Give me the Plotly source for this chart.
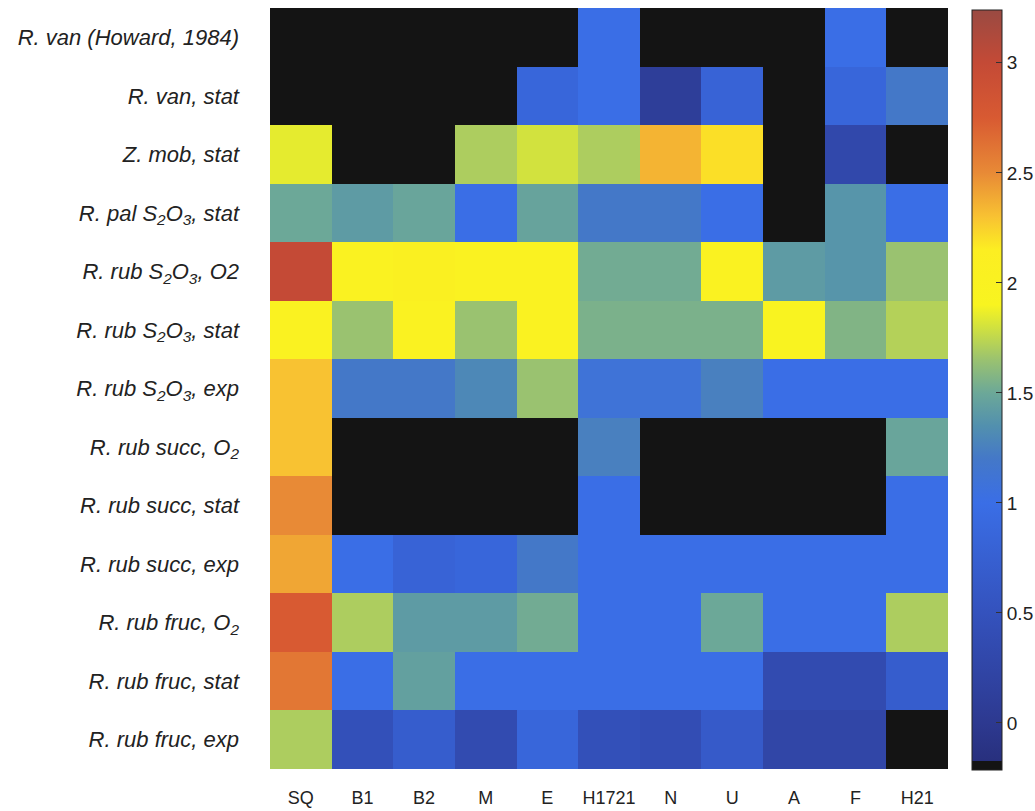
import plotly.graph_objects as go

# ---------------- data ----------------
columns = ["SQ", "B1", "B2", "M", "E", "H1721", "N", "U", "A", "F", "H21"]

row_labels = [
    "R. van (Howard, 1984)",
    "R. van, stat",
    "Z. mob, stat",
    "R. pal S<sub>2</sub>O<sub>3</sub>, stat",
    "R. rub S<sub>2</sub>O<sub>3</sub>, O2",
    "R. rub S<sub>2</sub>O<sub>3</sub>, stat",
    "R. rub S<sub>2</sub>O<sub>3</sub>, exp",
    "R. rub succ, O<sub>2</sub>",
    "R. rub succ, stat",
    "R. rub succ, exp",
    "R. rub fruc, O<sub>2</sub>",
    "R. rub fruc, stat",
    "R. rub fruc, exp",
]

# None = no data (drawn black, bottom of the colour scale)
r_van_howard   = [None, None, None, None, None, 1.00, None, None, None, 1.00, None]
r_van_stat     = [None, None, None, None, 0.85, 1.00, 0.10, 0.80, None, 0.85, 1.20]
z_mob_stat     = [1.85, None, None, 1.70, 1.80, 1.70, 2.35, 2.20, None, 0.30, None]
r_pal_s2o3     = [1.50, 1.42, 1.48, 1.00, 1.47, 1.20, 1.20, 1.00, None, 1.38, 1.00]
r_rub_s2o3_o2  = [3.00, 2.00, 2.05, 2.00, 2.00, 1.52, 1.52, 2.00, 1.42, 1.38, 1.65]
r_rub_s2o3_st  = [2.00, 1.65, 2.00, 1.65, 2.00, 1.55, 1.55, 1.55, 1.95, 1.57, 1.72]
r_rub_s2o3_exp = [2.30, 1.20, 1.20, 1.30, 1.65, 1.10, 1.10, 1.25, 1.00, 1.00, 1.00]
r_rub_succ_o2  = [2.30, None, None, None, None, 1.25, None, None, None, None, 1.48]
r_rub_succ_st  = [2.50, None, None, None, None, 1.00, None, None, None, None, 1.00]
r_rub_succ_exp = [2.40, 1.00, 0.80, 0.85, 1.20, 1.00, 1.00, 1.00, 1.00, 1.00, 1.00]
r_rub_fruc_o2  = [2.75, 1.70, 1.42, 1.42, 1.52, 1.00, 1.00, 1.50, 1.00, 1.00, 1.70]
r_rub_fruc_st  = [2.60, 1.00, 1.45, 1.00, 1.00, 1.00, 1.00, 1.00, 0.35, 0.35, 0.70]
r_rub_fruc_exp = [1.70, 0.45, 0.70, 0.35, 0.85, 0.45, 0.40, 0.65, 0.25, 0.25, None]

cbar_ticks = [0, 0.5, 1, 1.5, 2, 2.5, 3]
NO_DATA_CODE = -0.2
ZMIN, ZMAX = -0.214, 3.24

rows = [r_van_howard, r_van_stat, z_mob_stat, r_pal_s2o3, r_rub_s2o3_o2,
        r_rub_s2o3_st, r_rub_s2o3_exp, r_rub_succ_o2, r_rub_succ_st,
        r_rub_succ_exp, r_rub_fruc_o2, r_rub_fruc_st, r_rub_fruc_exp]
z = [[NO_DATA_CODE if v is None else v for v in r] for r in rows]


def frac(v):
    return (v - ZMIN) / (ZMAX - ZMIN)


stops = [
    (-0.214, "#141414"), (-0.172, "#141414"), (-0.171, "#28307e"),
    (0.0, "#2d3990"), (0.5, "#3452bd"), (1.0, "#3a6ee6"),
    (1.2, "#4478c8"), (1.35, "#5290ae"), (1.5, "#6ca898"),
    (1.65, "#9ac270"), (1.8, "#d2e23e"), (1.9, "#f8f420"),
    (2.15, "#fcee22"), (2.3, "#f8c232"), (2.5, "#e88a36"),
    (2.75, "#d85a32"), (3.0, "#c44a36"), (3.24, "#9a4a42"),
]
colorscale = [[min(max(frac(v), 0), 1), c] for v, c in stops]

fig = go.Figure(
    go.Heatmap(
        z=z,
        x=columns,
        y=row_labels,
        zmin=ZMIN,
        zmax=ZMAX,
        colorscale=colorscale,
        xgap=0,
        ygap=0,
        colorbar=dict(
            x=1.0354,
            xanchor="left",
            xpad=0,
            y=0.498,
            yanchor="middle",
            lenmode="pixels",
            len=760,
            ypad=0,
            thickness=30,
            thicknessmode="pixels",
            outlinecolor="#222222",
            outlinewidth=1,
            tickvals=cbar_ticks,
            ticktext=[str(t) for t in cbar_ticks],
            ticks="inside",
            ticklen=6,
            tickcolor="#333333",
            tickfont=dict(family="Liberation Sans, Arial, sans-serif", size=19, color="#222222"),
        ),
    )
)

fig.update_layout(
    width=1035,
    height=811,
    margin=dict(l=270, r=87, t=8, b=42, autoexpand=False),
    paper_bgcolor="white",
    plot_bgcolor="white",
    xaxis=dict(
        showgrid=False,
        zeroline=False,
        ticks="",
        ticklabelstandoff=16,
        tickfont=dict(family="Liberation Sans, Arial, sans-serif", size=18, color="#222222"),
    ),
    yaxis=dict(
        autorange="reversed",
        showgrid=False,
        zeroline=False,
        ticks="",
        ticklabelstandoff=30,
        tickfont=dict(family="Liberation Sans, Arial, sans-serif", size=22, color="#222222",
                      style="italic"),
    ),
)

# remove the page's default body margin so the figure fills the window exactly
fig.write_html(
    "out.html",
    config={"displayModeBar": False},
    post_script="document.body.style.margin='0';document.body.style.overflow='hidden';",
)
